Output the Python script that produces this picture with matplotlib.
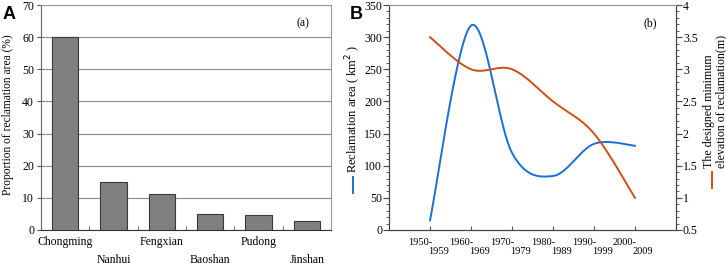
import matplotlib
matplotlib.use("Agg")
import matplotlib.pyplot as plt
from matplotlib.lines import Line2D
from matplotlib.ticker import MultipleLocator
import numpy as np

plt.rcParams["font.family"] = ["Liberation Serif", "DejaVu Serif"]

# panel (a) data
districts = ["Chongming", "Nanhui", "Fengxian", "Baoshan", "Pudong", "Jinshan"]
proportion = [60, 15, 11.2, 5, 4.8, 2.8]

# panel (b) data
periods_start = ["1950-", "1960-", "1970-", "1980-", "1990-", "2000-"]
periods_end = ["1959", "1969", "1979", "1989", "1999", "2009"]
area = [15, 318, 120, 84, 134, 131]
elevation = [3.5, 3.0, 3.0, 2.5, 2.0, 1.0]

blue = "#1a6fd6"
orange = "#cf4f12"


def smooth(xs, ys, n=40):
    # Catmull-Rom curve through the points (like a spreadsheet "smoothed line")
    xs = np.asarray(xs, float)
    ys = np.asarray(ys, float)
    px = np.concatenate([[xs[0]], xs, [xs[-1]]])
    py = np.concatenate([[ys[0]], ys, [ys[-1]]])
    out_x, out_y = [], []
    for i in range(1, len(px) - 2):
        t = np.linspace(0, 1, n)
        m0x, m1x = (px[i + 1] - px[i - 1]) / 2, (px[i + 2] - px[i]) / 2
        m0y, m1y = (py[i + 1] - py[i - 1]) / 2, (py[i + 2] - py[i]) / 2
        h00 = 2 * t**3 - 3 * t**2 + 1
        h10 = t**3 - 2 * t**2 + t
        h01 = -2 * t**3 + 3 * t**2
        h11 = t**3 - t**2
        out_x.append(h00 * px[i] + h10 * m0x + h01 * px[i + 1] + h11 * m1x)
        out_y.append(h00 * py[i] + h10 * m0y + h01 * py[i + 1] + h11 * m1y)
    return np.concatenate(out_x), np.concatenate(out_y)


fig = plt.figure(figsize=(7.26, 2.65), dpi=100)

# ---------------- panel A ----------------
ax1 = fig.add_axes([41 / 726, 35 / 265, 290 / 726, 225 / 265])
x = np.arange(len(districts))
ax1.bar(x, proportion, width=0.54, color="#7f7f7f", edgecolor="#3a3a3a", linewidth=0.8, zorder=3)
ax1.set_xlim(-0.5, len(districts) - 0.5)
ax1.set_ylim(0, 70)
ax1.set_yticks(range(0, 71, 10))
ax1.yaxis.grid(True, color="#8a8a8a", linewidth=0.8, zorder=0)
ax1.set_axisbelow(True)
ax1.set_xticks(x)
ax1.set_xticklabels(districts)
ax1.set_xticks(x[:-1] + 0.5, minor=True)
ax1.tick_params(axis="x", which="major", length=0, labelsize=8.5)
ax1.tick_params(axis="x", which="minor", direction="in", length=3, color="#555555")
for i, tick in enumerate(ax1.xaxis.get_major_ticks()):
    tick.set_pad(4 if i % 2 == 0 else 17)
ax1.tick_params(axis="y", length=3, color="#555555", labelsize=8.5, pad=2)
for side in ["top", "right"]:
    ax1.spines[side].set_color("#9a9a9a")
ax1.spines["left"].set_color("#666666")
ax1.spines["bottom"].set_color("#333333")
fig.text(8 / 726, (265 - 115) / 265, "Proportion of reclamation area (%)", rotation=90,
         ha="center", va="center", fontsize=8.3)
ax1.text(4.92, 64.4, "(a)", fontsize=8.5, ha="center", va="center")

# ---------------- panel B ----------------
ax2 = fig.add_axes([389 / 726, 35 / 265, 287 / 726, 225 / 265])
ax3 = ax2.twinx()
pos = np.arange(1, len(area) + 1)
bx, by = smooth(pos, area)
ox, oy = smooth(pos, elevation)
ax2.plot(bx, by, color=blue, linewidth=1.4, zorder=3)
ax3.plot(ox, oy, color=orange, linewidth=1.4)
ax2.set_xlim(0, 7)
ax2.set_ylim(0, 350)
ax3.set_ylim(0.5, 4)
ax2.yaxis.set_major_locator(MultipleLocator(50))
ax2.yaxis.set_minor_locator(MultipleLocator(10))
ax3.yaxis.set_major_locator(MultipleLocator(0.5))
ax3.yaxis.set_minor_locator(MultipleLocator(0.1))
ax3.set_yticklabels([f"{v:g}" for v in ax3.get_yticks()])
ax2.set_xticks(pos)
ax2.set_xticklabels([])
ax2.tick_params(axis="x", direction="in", length=3, color="#555555")
ax2.tick_params(axis="y", which="major", length=4, color="#444444", labelsize=8.5, pad=1)
ax2.tick_params(axis="y", which="minor", length=2, color="#444444")
ax3.tick_params(axis="y", which="major", length=4, color="#444444", labelsize=8.5, pad=1)
ax3.tick_params(axis="y", which="minor", length=2, color="#444444")
for a in (ax2, ax3):
    a.spines["top"].set_color("#9a9a9a")
    a.spines["left"].set_color("#444444")
    a.spines["right"].set_color("#444444")
    a.spines["bottom"].set_color("#444444")
for p, s, e in zip(pos, periods_start, periods_end):
    ax2.text(p + 0.05, -0.035, s, transform=ax2.get_xaxis_transform(), ha="right", va="top", fontsize=7.5)
    ax2.text(p - 0.05, -0.075, e, transform=ax2.get_xaxis_transform(), ha="left", va="top", fontsize=7.5)
ax2.text(6.37, 322, "(b)", fontsize=8.5, ha="center", va="center")

# axis titles with their line keys
fig.text(353 / 726, (265 - 109) / 265, "Reclamation area ( km$^2$ )", rotation=90,
         ha="center", va="center", fontsize=9)
fig.add_artist(Line2D([353 / 726, 353 / 726], [(265 - 193) / 265, (265 - 177) / 265],
                      color=blue, linewidth=1.4, transform=fig.transFigure))
fig.text(715 / 726, (265 - 168) / 265, "The designed minimum\nelevation of reclamation(m)", rotation=90,
         ha="center", va="bottom", fontsize=8.6, multialignment="left", linespacing=1.0)
fig.add_artist(Line2D([712 / 726, 712 / 726], [(265 - 188) / 265, (265 - 172) / 265],
                      color=orange, linewidth=1.4, transform=fig.transFigure))

# panel letters
fig.text(3 / 726, (265 - 19) / 265, "A", fontsize=13, fontweight="bold", family="Liberation Sans", va="baseline")
fig.text(350 / 726, (265 - 19) / 265, "B", fontsize=13, fontweight="bold", family="Liberation Sans", va="baseline")

fig.savefig("out.png", dpi=100)
